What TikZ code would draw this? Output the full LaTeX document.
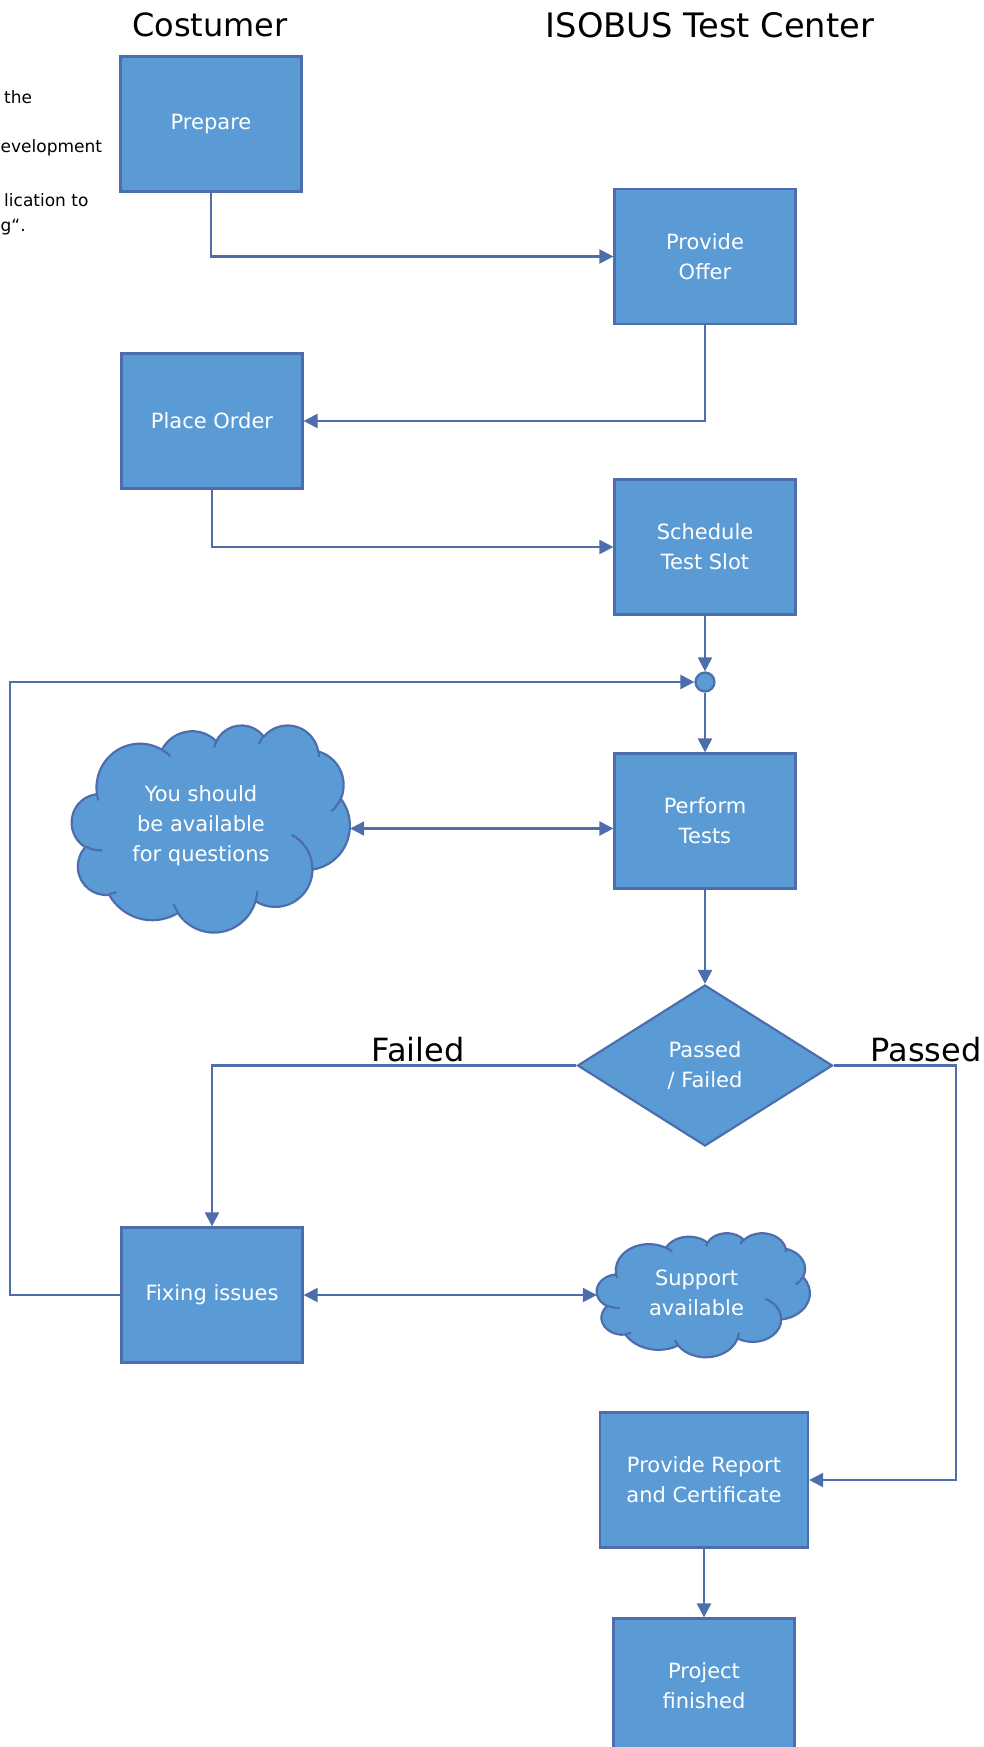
\documentclass[tikz,border=0pt]{standalone}
\usepackage{fontspec}
\setmainfont{DejaVu Sans}
\usetikzlibrary{arrows.meta,shapes.geometric,calc}
\definecolor{boxblue}{HTML}{5B9BD5}
\definecolor{lineblue}{HTML}{4E6DAD}

\newcommand\cloudouter{}
\newcommand\cloudinner{}
\newcommand\buildcloud{%
  \gdef\cloudouter{}%
  \foreach \arW/\arH/\arS/\arD in {6.753/9.190/-190.4875/123.7805, 5.333/7.267/-144.1024/89.9452, 4.365/5.945/-145.8079/99.7230, 4.857/6.595/-130.9861/117.2417, 5.333/7.273/-78.7089/109.0269, 6.775/9.220/-46.2673/130.2690, 5.785/7.867/0.6250/114.0333, 6.752/9.215/22.4516/115.1726, 7.720/10.543/66.2426/75.7110, 4.360/5.918/-274.9421/146.7356, 4.345/5.945/-246.8285/152.5189}{%
    \pgfmathsetmacro\arTa{atan2(sin(\arS)/\arH, cos(\arS)/\arW)}%
    \pgfmathsetmacro\arTb{atan2(sin(\arS+\arD)/\arH, cos(\arS+\arD)/\arW)}%
    \pgfmathsetmacro\arDT{mod(\arTb-\arTa+720,360)}%
    \xdef\cloudouter{\cloudouter arc[x radius=\arW, y radius=\arH, start angle=\arTa, delta angle=\arDT]}%
  }%
  \gdef\cloudinner{}%
  \foreach \px/\py/\arW/\arH/\arS/\arD in {4.693/26.177/4.345/5.945/86.7420/26.4295, 6.928/34.899/4.360/5.918/73.6105/11.4475, 16.478/39.090/6.752/9.215/137.6242/14.0811, 28.827/34.751/6.752/9.215/6.4533/15.9984, 34.129/22.954/5.785/7.867/-70.2924/70.9174, 41.798/15.354/5.333/7.273/30.3180/27.7515, 38.324/5.426/4.857/6.595/-13.7443/14.8589, 29.078/3.952/4.857/6.595/-149.1815/18.1954, 22.141/4.720/4.365/5.945/-163.4943/17.6864, 14.000/5.192/6.753/9.190/-66.7070/12.3194, 4.127/15.789/6.753/9.190/157.6544/11.8582}{%
    \pgfmathsetmacro\arTa{atan2(sin(\arS)/\arH, cos(\arS)/\arW)}%
    \pgfmathsetmacro\arTb{atan2(sin(\arS+\arD)/\arH, cos(\arS+\arD)/\arW)}%
    \pgfmathsetmacro\arDT{mod(\arTb-\arTa+720,360)}%
    \xdef\cloudinner{\cloudinner (\px,\py) arc[x radius=\arW, y radius=\arH, start angle=\arTa, delta angle=\arDT]}%
  }%
}
\newcommand\drawoffcloud[3]{%
  \begin{scope}[shift={(#1.north west)}, x=#2, y=#3]
    \filldraw[cloudline, fill=boxblue] (3.9,14.37) \cloudouter -- cycle;
    \draw[cloudline] \cloudinner;
  \end{scope}}

\tikzset{
  box/.style={rectangle, draw=lineblue, fill=boxblue, line width=2.2pt,
    minimum width=181pt, minimum height=135pt, inner sep=0pt, text=white,
    align=center, font=\fontsize{21}{30}\selectfont},
  decision/.style={diamond, draw=lineblue, fill=boxblue, line width=2.2pt,
    minimum width=255pt, minimum height=161pt, inner sep=0pt, text=white,
    align=center, font=\fontsize{21}{30}\selectfont},
  junction/.style={circle, draw=lineblue, fill=boxblue, line width=2.2pt,
    minimum size=19pt, inner sep=0pt},
  cloudbox/.style={rectangle, inner sep=0pt},
  cloudtext/.style={text=white, align=center, inner sep=0pt,
    font=\fontsize{21}{30}\selectfont},
  cloudline/.style={draw=lineblue, line width=2.2pt, line join=round},
  heading/.style={text=black, inner sep=0pt, font=\fontsize{32}{38}\selectfont},
  fragment/.style={text=black, inner sep=0pt, anchor=west, font=\fontsize{17}{20}\selectfont},
  conn/.style={draw=lineblue, line width=2.2pt, -{Triangle[length=14pt,width=14pt]}},
  dconn/.style={draw=lineblue, line width=2.2pt, {Triangle[length=14pt,width=14pt]}-{Triangle[length=14pt,width=14pt]}}
}

\begin{document}
\buildcloud
\begin{tikzpicture}[x=1pt, y=-1pt]
\useasboundingbox (0,0) rectangle (984,1747);

% headings
\node[heading] (hc) at (210,25) {Costumer};
\node[heading, font=\fontsize{33.7}{40}\selectfont] (hi) at (710,25) {ISOBUS Test Center};

% partly visible text at the left edge
\node[fragment] (f1) at (4,97) {the};
\node[fragment] (f2) at (0.5,148) {evelopment};
\node[fragment] (f3) at (4,200) {lication to};
\node[fragment] (f4) at (0.5,227) {g“.};

% boxes
\node[box] (n1) at (211,124) {Prepare};
\node[box] (n2) at (705,256.5) {Provide\\Offer};
\node[box] (n3) at (212,421) {Place Order};
\node[box] (n4) at (705,547) {Schedule\\Test Slot};
\node[junction] (j) at (705,682) {};
\node[box] (n5) at (705,821) {Perform\\Tests};
\node[decision] (d) at (705,1065.5) {Passed\\/ Failed};
\node[box] (n6) at (212,1295) {Fixing issues};
\node[box, minimum width=208pt] (n7) at (704,1480) {Provide Report\\and Certificate};
\node[box] (n8) at (704,1686) {Project\\finished};

% clouds
\node[cloudbox, minimum width=278pt, minimum height=207pt] (c1) at (211,828.5) {};
\drawoffcloud{c1}{6.435pt}{-4.792pt}
\node[cloudtext] (c1t) at ([xshift=-10pt, yshift=2.5pt]c1.center) {You should\\be available\\for questions};

\node[cloudbox, minimum width=213pt, minimum height=124pt] (c2) at (703.5,1295) {};
\drawoffcloud{c2}{4.931pt}{-2.870pt}
\node[cloudtext] (c2t) at ([xshift=-7pt, yshift=2pt]c2.center) {Support\\available};

% labels
\node[heading] (lf) at (418,1050) {Failed};
\node[heading] (lp) at (926,1050) {Passed};

% helper coordinates
\coordinate (loopx) at (10,0);
\coordinate (passx) at (956,0);

% connectors
\draw[conn] (n1.south) |- (n2.west);
\draw[conn] (n2.south) |- (n3.east);
\draw[conn] (n3.south) |- (n4.west);
\draw[conn] (n4.south) -- (j.north);
\draw[conn] (j.south) -- (n5.north);
\draw[dconn] (c1.east) -- (c1.east -| n5.west);
\draw[conn] (n5.south) -- (d.north);
\draw[conn] (d.west) -| (n6.north);
\draw[conn] (d.east) -- (d.east -| passx) |- (n7.east);
\draw[conn] (n6.west) -- (n6.west -| loopx) |- (j.west);
\draw[dconn] (n6.east) -- (c2.west);
\draw[conn] (n7.south) -- (n8.north);
\end{tikzpicture}
\end{document}
